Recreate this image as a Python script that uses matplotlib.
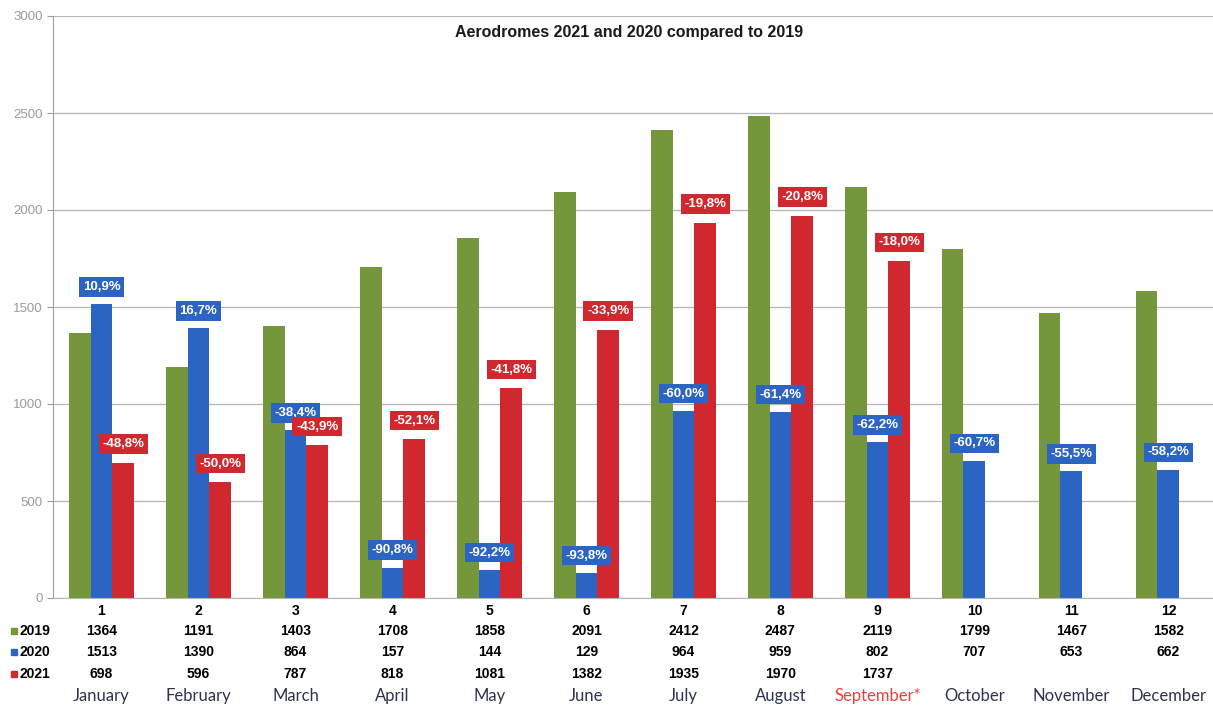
import numpy as np
import matplotlib.pyplot as plt
from matplotlib.transforms import blended_transform_factory

months = ["January", "February", "March", "April", "May", "June",
          "July", "August", "September*", "October", "November", "December"]
month_nums = [str(i) for i in range(1, 13)]

v2019 = [1364, 1191, 1403, 1708, 1858, 2091, 2412, 2487, 2119, 1799, 1467, 1582]
v2020 = [1513, 1390, 864, 157, 144, 129, 964, 959, 802, 707, 653, 662]
v2021 = [698, 596, 787, 818, 1081, 1382, 1935, 1970, 1737]

pct2020 = ["10,9%", "16,7%", "-38,4%", "-90,8%", "-92,2%", "-93,8%",
           "-60,0%", "-61,4%", "-62,2%", "-60,7%", "-55,5%", "-58,2%"]
pct2021 = ["-48,8%", "-50,0%", "-43,9%", "-52,1%", "-41,8%", "-33,9%",
           "-19,8%", "-20,8%", "-18,0%"]

title = "Aerodromes 2021 and 2020 compared to 2019"

c19 = "#73973a"
c20 = "#2c64c4"
c21 = "#d0282e"

plt.rcParams["font.family"] = ["Liberation Sans", "DejaVu Sans"]

W, H = 1213, 706
fig = plt.figure(figsize=(W / 100, H / 100), dpi=100)
ax = fig.add_axes([53 / W, 108 / H, 1 - 53 / W, 582 / H])

x = np.arange(len(months))
bw = 0.225
ax.bar(x - bw, v2019, bw, color=c19, zorder=2)
ax.bar(x, v2020, bw, color=c20, zorder=2)
x21 = np.arange(len(v2021))
ax.bar(x21 + bw, v2021, bw, color=c21, zorder=2)

box = dict(boxstyle="square,pad=0.28", linewidth=0)
for xi, v, p in zip(x, v2020, pct2020):
    ax.annotate(p, (xi, v), xytext=(0, 12.5), textcoords="offset points",
                ha="center", va="center", color="white", fontsize=9.5,
                fontweight="bold", bbox=dict(box, facecolor=c20), zorder=5)
for xi, v, p in zip(x21 + bw, v2021, pct2021):
    ax.annotate(p, (xi, v), xytext=(0, 13.5), textcoords="offset points",
                ha="center", va="center", color="white", fontsize=9.5,
                fontweight="bold", bbox=dict(box, facecolor=c21), zorder=5)

ax.set_ylim(0, 3000)
ax.set_xlim(-0.5, 11.46)
ax.set_yticks(np.arange(0, 3001, 500))
ax.tick_params(axis="y", colors="#9a9a9a", labelsize=9.5, length=4, width=0.8)
ax.tick_params(axis="x", length=0, labelbottom=False)
ax.yaxis.grid(True, color="#b5b5b5", linewidth=0.9, zorder=0)
for s in ["top", "right"]:
    ax.spines[s].set_visible(False)
ax.spines["left"].set_color("#a0a0a0")
ax.spines["bottom"].set_color("#b5b5b5")

ax.text(0.497, 0.985, title, transform=ax.transAxes,
        ha="center", va="top", fontsize=11.5, fontweight="bold", color="#1a1a1a")

# data table below the axis
tr = blended_transform_factory(ax.transData, fig.transFigure)


def fy(px):
    return 1 - px / H


for xi, n in zip(x, month_nums):
    ax.text(xi, fy(611), n, transform=tr, ha="center", va="center",
            fontsize=10, fontweight="bold", clip_on=False)
rows = [(v2019, 631, c19, "2019"), (v2020, 652, c20, "2020"), (v2021, 674, c21, "2021")]
for vals, py, col, lab in rows:
    for xi, v in zip(x, vals):
        ax.text(xi, fy(py), str(v), transform=tr, ha="center", va="center",
                fontsize=10, fontweight="bold", clip_on=False)
    fig.patches.append(plt.Rectangle((11 / W, fy(py) - 3 / H), 6 / W, 6 / H,
                                     transform=fig.transFigure, color=col))
    fig.text(19 / W, fy(py), lab, ha="left", va="center", fontsize=10,
             fontweight="bold")
for xi, m in zip(x, months):
    col = "#e8403c" if m.endswith("*") else "#2b3550"
    ax.text(xi, fy(696), m, transform=tr, ha="center", va="center",
            fontsize=12, family=["Lato", "DejaVu Sans"], color=col, clip_on=False)

fig.savefig("out.png", dpi=100)
